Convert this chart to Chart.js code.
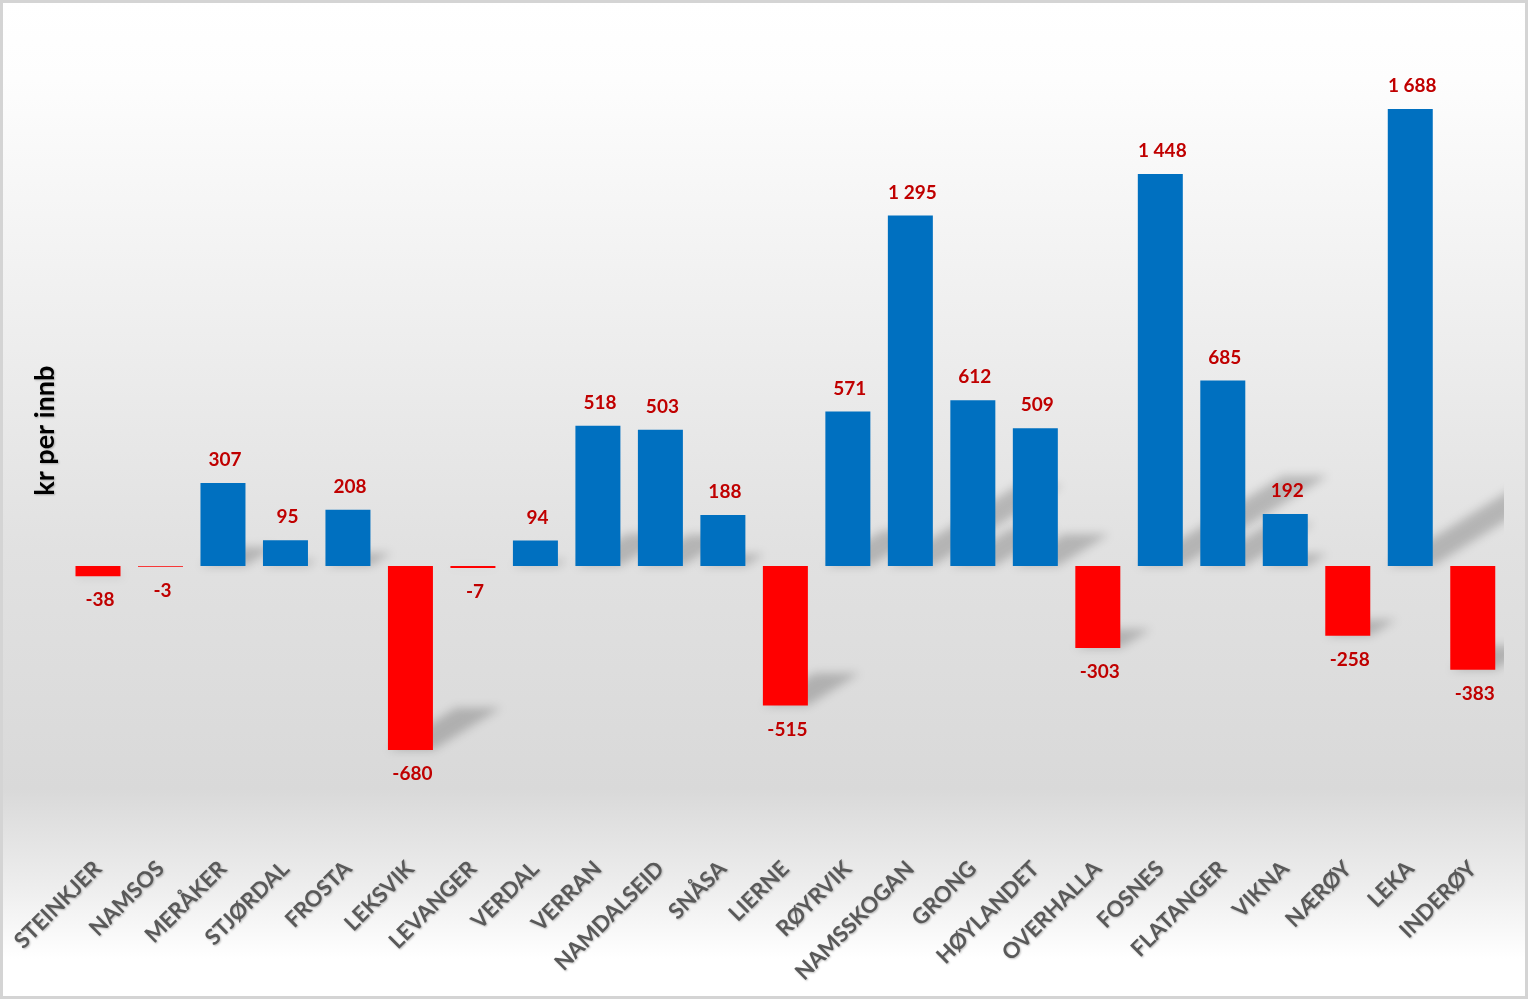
<!DOCTYPE html>
<html>
<head>
<meta charset="utf-8">
<script src="https://cdn.jsdelivr.net/npm/chart.js@4"></script>
<style>
  html, body { margin: 0; padding: 0; background: #fff; }
  #wrap { width: 1528px; height: 999px; }
</style>
</head>
<body>
<div id="wrap"><canvas id="myChart"></canvas></div>
<script>
  // data
  const kommuner = ['STEINKJER', 'NAMSOS', 'MERÅKER', 'STJØRDAL', 'FROSTA', 'LEKSVIK', 'LEVANGER', 'VERDAL',
    'VERRAN', 'NAMDALSEID', 'SNÅSA', 'LIERNE', 'RØYRVIK', 'NAMSSKOGAN', 'GRONG', 'HØYLANDET', 'OVERHALLA',
    'FOSNES', 'FLATANGER', 'VIKNA', 'NÆRØY', 'LEKA', 'INDERØY'];
  const krPerInnb = [-38, -3, 307, 95, 208, -680, -7, 94, 518, 503, 188, -515, 571, 1295, 612, 509, -303,
    1448, 685, 192, -258, 1688, -383];
  const yTitle = 'kr per innb';

  const blue = '#0070c0';
  const red = '#ff0000';

  function fmt(v) {
    const s = Math.abs(v).toString().replace(/\B(?=(\d{3})+(?!\d))/g, ' ');
    return (v < 0 ? '-' : '') + s;
  }

  // background + border, and soft shadow on axis text
  const bgPlugin = {
    id: 'bg',
    beforeDraw(chart) {
      const ctx = chart.ctx, w = chart.width, h = chart.height;
      const g = ctx.createLinearGradient(0, 0, 0, h);
      g.addColorStop(0, '#ffffff');
      g.addColorStop(0.08, '#fdfdfd');
      g.addColorStop(0.55, '#e1e1e1');
      g.addColorStop(0.79, '#d9d9d9');
      g.addColorStop(0.89, '#eeeeee');
      g.addColorStop(0.96, '#ffffff');
      g.addColorStop(1, '#ffffff');
      ctx.save();
      ctx.fillStyle = g;
      ctx.fillRect(0, 0, w, h);
      ctx.strokeStyle = '#d4d4d4';
      ctx.lineWidth = 3;
      ctx.strokeRect(1.5, 1.5, w - 3, h - 3);
      ctx.restore();
      ctx.shadowColor = 'rgba(0,0,0,0.25)';
      ctx.shadowBlur = 2;
      ctx.shadowOffsetX = 1;
      ctx.shadowOffsetY = 1;
    },
    beforeDatasetsDraw(chart) {
      const ctx = chart.ctx;
      ctx.shadowColor = 'rgba(0,0,0,0)';
      ctx.shadowBlur = 0;
      ctx.shadowOffsetX = 0;
      ctx.shadowOffsetY = 0;
      // perspective shadows behind the bars
      const a = chart.chartArea;
      ctx.save();
      ctx.beginPath();
      ctx.rect(a.left, a.top, a.right - a.left, a.bottom - a.top);
      ctx.clip();
      ctx.filter = 'blur(5px)';
      ctx.fillStyle = 'rgba(0,0,0,0.2)';
      chart.getDatasetMeta(0).data.forEach(bar => {
        const p = bar.getProps(['x', 'y', 'base', 'width'], true);
        const y0 = Math.max(p.y, p.base);
        const hgt = Math.abs(p.base - p.y);
        const l = p.x - p.width / 2, r = p.x + p.width / 2;
        const dx = 0.37 * hgt, dy = 0.23 * hgt;
        ctx.beginPath();
        ctx.moveTo(l, y0);
        ctx.lineTo(r, y0);
        ctx.lineTo(r + dx, y0 - dy);
        ctx.lineTo(l + dx, y0 - dy);
        ctx.closePath();
        ctx.fill();
      });
      ctx.restore();
    }
  };

  // value labels over / under bars
  const labelPlugin = {
    id: 'vals',
    afterDatasetsDraw(chart) {
      const ctx = chart.ctx;
      ctx.save();
      ctx.font = 'bold 19px Lato';
      ctx.fillStyle = '#c00000';
      ctx.textAlign = 'center';
      ctx.textBaseline = 'middle';
      chart.getDatasetMeta(0).data.forEach((bar, i) => {
        const v = krPerInnb[i];
        const p = bar.getProps(['x', 'y', 'base'], true);
        const ty = v >= 0 ? p.y - 23 : p.y + 24;
        ctx.fillText(fmt(v), p.x + 2, ty);
      });
      ctx.restore();
    }
  };

  const data = {
    labels: kommuner,
    datasets: [{
      label: yTitle,
      data: krPerInnb,
      backgroundColor: krPerInnb.map(v => v < 0 ? red : blue),
      borderWidth: 0,
      barPercentage: 0.72,
      categoryPercentage: 1
    }]
  };

  const config = {
    type: 'bar',
    data: data,
    options: {
      responsive: true,
      maintainAspectRatio: false,
      animation: false,
      layout: { padding: { top: 24.6, right: 24, bottom: 0, left: 0 } },
      plugins: {
        legend: { display: false },
        tooltip: { enabled: false }
      },
      scales: {
        x: {
          grid: { display: false, drawTicks: false },
          border: { display: false },
          ticks: {
            autoSkip: false,
            maxRotation: 45,
            minRotation: 45,
            padding: 19,
            color: '#595959',
            font: { family: 'Lato', weight: 'bold', size: 22 }
          },
          afterFit(scale) {
            scale.height = 162.3;
            scale.paddingLeft = 0;
            scale.paddingRight = 0;
          }
        },
        y: {
          min: -1000,
          max: 2000,
          grid: { display: false, drawTicks: false },
          border: { display: false },
          ticks: { display: false },
          title: {
            display: true,
            text: yTitle,
            color: '#000000',
            font: { family: 'Lato', weight: 'bold', size: 27 },
            padding: { top: 29, bottom: 0 }
          },
          afterFit(scale) { scale.width = 66.75; }
        }
      }
    },
    plugins: [bgPlugin, labelPlugin]
  };

  const myChart = new Chart(document.getElementById('myChart'), config);
</script>
</body>
</html>
